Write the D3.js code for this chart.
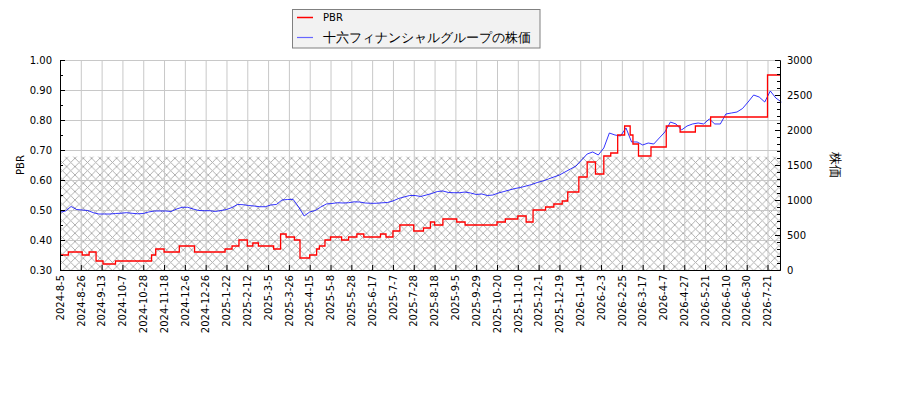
<!DOCTYPE html>
<html><head><meta charset="utf-8">
<script src="https://cdn.jsdelivr.net/npm/d3@7"></script>
<style>body{margin:0;background:#fff}svg{display:block}text{font-family:"DejaVu Sans",sans-serif}</style>
</head><body><svg id="c" width="900" height="400"></svg>
<script>
// ---- data ----
const tickLabels = ["2024-8-5","2024-8-26","2024-9-13","2024-10-7","2024-10-28","2024-11-18","2024-12-6","2024-12-26","2025-1-22","2025-2-12","2025-3-5","2025-3-26","2025-4-15","2025-5-8","2025-5-28","2025-6-17","2025-7-7","2025-7-28","2025-8-18","2025-9-5","2025-9-29","2025-10-20","2025-11-10","2025-12-1","2025-12-19","2026-1-14","2026-2-3","2026-2-25","2026-3-17","2026-4-7","2026-4-27","2026-5-21","2026-6-10","2026-6-30","2026-7-21"];
const tickEvery = 15;          // trading days between labelled ticks
const lastDay = 519;           // index of last trading day
const priceStep = 4;           // price sampled every 4 trading days
const price = [824,843,907,864,857,850,819,800,800,800,807,811,819,810,803,807,829,843,843,843,836,871,896,896,871,850,847,847,836,850,864,893,936,933,921,914,904,904,929,936,1000,1007,1010,900,771,829,850,900,943,950,961,957,961,974,971,957,953,953,960,964,986,1021,1043,1064,1064,1050,1071,1093,1121,1129,1107,1104,1104,1114,1100,1079,1086,1064,1071,1100,1121,1143,1164,1179,1200,1221,1250,1271,1300,1329,1357,1400,1443,1486,1571,1657,1686,1643,1743,1957,1929,1914,2029,1829,1829,1786,1814,1800,1886,1971,2114,2086,2000,2057,2086,2100,2086,2157,2086,2086,2229,2243,2257,2307,2400,2500,2471,2400,2557,2457,2400];
const pbrStart = [0,6,16,21,26,31,40,66,69,75,86,97,119,124,129,135,139,143,154,159,163,169,173,180,185,187,191,195,203,208,214,219,231,235,240,245,255,262,267,270,276,286,292,315,321,330,336,341,350,356,362,366,374,380,386,392,397,402,407,411,413,417,426,437,447,458,469,510];
const pbrValue = [0.35,0.36,0.35,0.36,0.33,0.32,0.33,0.35,0.37,0.36,0.38,0.36,0.37,0.38,0.40,0.38,0.39,0.38,0.37,0.42,0.41,0.40,0.34,0.35,0.37,0.38,0.40,0.41,0.40,0.41,0.42,0.41,0.42,0.41,0.43,0.45,0.43,0.44,0.46,0.45,0.47,0.46,0.45,0.46,0.47,0.48,0.46,0.50,0.51,0.52,0.53,0.56,0.61,0.66,0.62,0.68,0.69,0.75,0.78,0.75,0.72,0.68,0.71,0.78,0.76,0.78,0.81,0.95];
const hatchTop = 0.678;
const leftTicks = [0.30,0.40,0.50,0.60,0.70,0.80,0.90,1.00];
const rightTicks = [0,500,1000,1500,2000,2500,3000];
const seriesNames = ["PBR","十六フィナンシャルグループの株価"];

// ---- layout ----
const L=60, R=780, T=60, B=270;
const svg = d3.select("#c");
const x = d3.scaleLinear().domain([0,lastDay]).range([L,R]);
const yL = d3.scaleLinear().domain([0.3,1.0]).range([B,T]);
const yR = d3.scaleLinear().domain([0,3000]).range([B,T]);

const defs = svg.append("defs");
const pat = defs.append("pattern").attr("id","hatch").attr("patternUnits","userSpaceOnUse")
  .attr("width",8.33).attr("height",8.33);
pat.append("path").attr("d","M0,0L8.33,8.33M0,8.33L8.33,0M-1,1L1,-1M7.33,9.33L9.33,7.33M-1,7.33L1,9.33M7.33,-1L9.33,1")
  .attr("stroke","#a8a8a8").attr("stroke-width",0.9).attr("fill","none");

// hatch region
svg.append("rect").attr("x",x(0)).attr("y",yL(hatchTop)).attr("width",x(lastDay)-x(0))
  .attr("height",yL(0.3)-yL(hatchTop)).attr("fill","url(#hatch)");

// grid
const tickIdx = tickLabels.map((d,i)=>i*tickEvery);
svg.append("g").selectAll("line").data(tickIdx).join("line")
  .attr("x1",d=>x(d)+0.5).attr("x2",d=>x(d)+0.5).attr("y1",T).attr("y2",B)
  .attr("stroke","#c8c8c8").attr("stroke-width",1);
svg.append("g").selectAll("line").data(leftTicks).join("line")
  .attr("x1",L).attr("x2",R).attr("y1",d=>yL(d)+0.5).attr("y2",d=>yL(d)+0.5)
  .attr("stroke","#c8c8c8").attr("stroke-width",1);

// lines
const priceLine = d3.line().x((d,i)=>x(i*priceStep)).y(d=>yR(d));
svg.append("path").datum(price).attr("d",priceLine).attr("fill","none")
  .attr("stroke","#0000ff").attr("stroke-width",0.8);

const pbrPts = pbrStart.map((s,i)=>[s,pbrValue[i]]);
pbrPts.push([lastDay,pbrValue[pbrValue.length-1]]);
const pbrLine = d3.line().x(d=>x(d[0])).y(d=>yL(d[1])).curve(d3.curveStepAfter);
svg.append("path").datum(pbrPts).attr("d",pbrLine).attr("fill","none")
  .attr("stroke","#ff0000").attr("stroke-width",1.3);

// axes
const axL = d3.axisLeft(yL).tickValues(leftTicks).tickFormat(d3.format(".2f")).tickSizeInner(-5).tickSizeOuter(0).tickPadding(8);
const gL = svg.append("g").attr("transform",`translate(${L},0)`).call(axL);
svg.append("g").attr("transform",`translate(${L},0)`)
  .call(d3.axisLeft(yL).tickValues(d3.range(0.35,1.0,0.1)).tickFormat("").tickSizeInner(-3).tickSizeOuter(0));
const axR = d3.axisRight(yR).tickValues(rightTicks).tickFormat(d3.format("d")).tickSizeInner(-5).tickSizeOuter(0).tickPadding(7);
const gR = svg.append("g").attr("transform",`translate(${R},0)`).call(axR);
svg.append("g").attr("transform",`translate(${R},0)`)
  .call(d3.axisRight(yR).tickValues(d3.range(100,3000,100).filter(v=>v%500)).tickFormat("").tickSizeInner(-3).tickSizeOuter(0));
const axB = d3.axisBottom(x).tickValues(tickIdx).tickFormat((d,i)=>tickLabels[i]).tickSizeInner(-5).tickSizeOuter(0);
const gB = svg.append("g").attr("transform",`translate(0,${B})`).call(axB);
gB.selectAll("text").attr("transform","rotate(-90)").attr("text-anchor","end")
  .attr("x",-5).attr("y",0).attr("dy","0.32em");

svg.selectAll(".domain").attr("stroke","#000").attr("stroke-width",1);
svg.selectAll(".tick line").attr("stroke","#000");
svg.selectAll(".tick text").attr("fill","#000").attr("font-size",10).attr("font-family","DejaVu Sans");

// axis titles
svg.append("text").attr("transform","translate(24,165) rotate(-90)").attr("text-anchor","middle")
  .attr("font-size",10).text("PBR");
svg.append("text").attr("transform","translate(831,165) rotate(90)").attr("text-anchor","middle")
  .attr("font-size",12.5).attr("font-family","Noto Sans CJK JP").text("株価");

// legend
const lg = svg.append("g");
lg.append("rect").attr("x",292.5).attr("y",9.5).attr("width",247.5).attr("height",38.5)
  .attr("fill","#f2f2f2").attr("stroke","#808080").attr("stroke-width",1);
const lc = ["#ff0000","#6666ff"];
seriesNames.forEach((n,i)=>{
  const yy = 17.5 + i*20;
  lg.append("line").attr("x1",297).attr("x2",313).attr("y1",yy).attr("y2",yy)
    .attr("stroke",lc[i]).attr("stroke-width",i?1.2:1.5);
  lg.append("text").attr("x",323).attr("y",yy).attr("dy","0.35em")
    .attr("font-size",i?13:10).attr("font-family",i?"Noto Sans CJK JP":"DejaVu Sans").text(n);
});
</script></body></html>
